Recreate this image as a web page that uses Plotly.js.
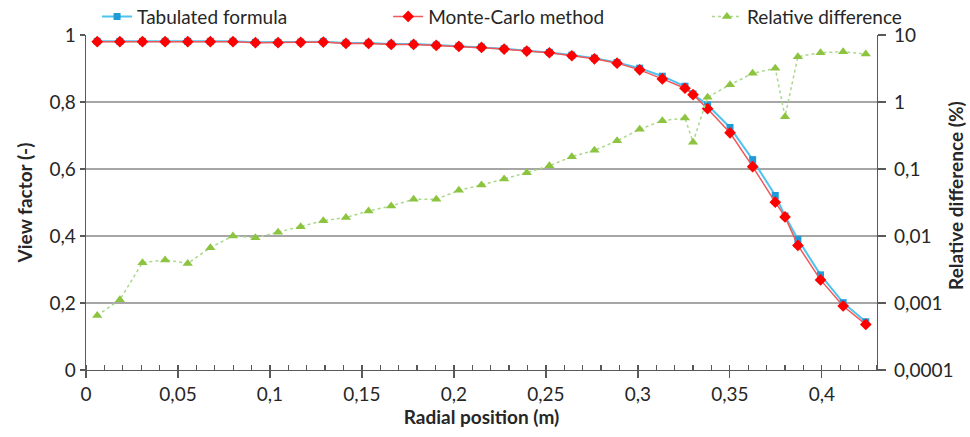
<!DOCTYPE html>
<html>
<head>
<meta charset="utf-8">
<script src="https://cdn.plot.ly/plotly-3.0.1.min.js"></script>
<style>html,body{margin:0;padding:0;background:#fff;}#chart{width:970px;height:437px;}</style>
</head>
<body>
<div id="chart"></div>
<script>
const radialPosition = [0.0061, 0.0184, 0.0307, 0.0430, 0.0553, 0.0676, 0.0799, 0.0921, 0.1044, 0.1167, 0.1290, 0.1413, 0.1536, 0.1659, 0.1781, 0.1904, 0.2027, 0.2150, 0.2273, 0.2396, 0.2519, 0.2641, 0.2764, 0.2887, 0.3010, 0.3133, 0.3256, 0.3300, 0.3379, 0.3501, 0.3624, 0.3747, 0.3800, 0.3870, 0.3993, 0.4116, 0.4239];
const tabulatedFormula = [0.981, 0.981, 0.981, 0.981, 0.981, 0.981, 0.981, 0.978, 0.978, 0.979, 0.980, 0.976, 0.976, 0.973, 0.973, 0.970, 0.967, 0.964, 0.959, 0.953, 0.948, 0.940, 0.931, 0.918, 0.901, 0.877, 0.847, 0.824, 0.791, 0.724, 0.628, 0.521, 0.460, 0.390, 0.284, 0.201, 0.144];
const monteCarlo = [0.980, 0.980, 0.980, 0.980, 0.980, 0.980, 0.980, 0.977, 0.977, 0.978, 0.979, 0.975, 0.975, 0.972, 0.972, 0.969, 0.966, 0.963, 0.958, 0.952, 0.947, 0.938, 0.929, 0.916, 0.896, 0.869, 0.841, 0.822, 0.780, 0.708, 0.607, 0.501, 0.457, 0.372, 0.269, 0.191, 0.136];
const relativeDifference = [0.00065, 0.00112, 0.0040, 0.0044, 0.0039, 0.0067, 0.0100, 0.0094, 0.0114, 0.0138, 0.0169, 0.0189, 0.0236, 0.0281, 0.0353, 0.0353, 0.0481, 0.0577, 0.0709, 0.0881, 0.112, 0.153, 0.190, 0.263, 0.392, 0.526, 0.577, 0.251, 1.175, 1.81, 2.68, 3.18, 0.604, 4.74, 5.45, 5.64, 5.20];
const leftTicks = [0, 0.2, 0.4, 0.6, 0.8, 1];
const rightTickVals = [0.0001, 0.001, 0.01, 0.1, 1, 10];
const rightTickText = ["0,0001", "0,001", "0,01", "0,1", "1", "10"];
const xTicks = [0, 0.05, 0.1, 0.15, 0.2, 0.25, 0.3, 0.35, 0.4];

const FONT = 'Lato, "Open Sans", sans-serif';
const TXT = '#262626';

const traces = [
  {
    x: radialPosition, y: tabulatedFormula, name: 'Tabulated formula', type: 'scatter', mode: 'lines+markers',
    line: {color: '#4EC3F0', width: 2},
    marker: {symbol: 'square', size: 7, color: '#1F9BD8'},
    legend: 'legend'
  },
  {
    x: radialPosition, y: monteCarlo, name: 'Monte-Carlo method', type: 'scatter', mode: 'lines+markers',
    line: {color: '#F0585A', width: 1.5},
    marker: {symbol: 'diamond', size: 9, color: '#FF0000'},
    legend: 'legend2'
  },
  {
    x: radialPosition, y: relativeDifference, name: 'Relative difference', type: 'scatter', mode: 'lines+markers',
    yaxis: 'y2',
    line: {color: '#A9D88A', width: 1.5, dash: 'dot'},
    marker: {symbol: 'triangle-up', size: 9, color: '#8CC43F'},
    legend: 'legend3'
  }
];

const legendCommon = {orientation: 'h', yanchor: 'middle', y: 1.055, bgcolor: 'rgba(0,0,0,0)',
  font: {family: FONT, size: 19, color: TXT}};

const layout = {
  width: 970, height: 437,
  margin: {l: 86, r: 93, t: 35, b: 67, autoexpand: false},
  paper_bgcolor: '#fff', plot_bgcolor: '#fff',
  separators: ', ',
  font: {family: FONT, size: 19, color: TXT},
  showlegend: true,
  legend: Object.assign({}, legendCommon, {x: 0.014, xanchor: 'left'}),
  legend2: Object.assign({}, legendCommon, {x: 0.382, xanchor: 'left'}),
  legend3: Object.assign({}, legendCommon, {x: 0.785, xanchor: 'left'}),
  xaxis: {
    range: [0, 0.43], tickvals: xTicks, ticks: 'outside', ticklen: 7, tickcolor: '#595959', tickwidth: 1.3,
    showline: true, linecolor: '#595959', linewidth: 1.3, showgrid: false, zeroline: false,
    minor: {dtick: 0.01, ticks: 'inside', ticklen: 5, tickcolor: '#595959', tickwidth: 1.3, showgrid: false},
    tickfont: {family: FONT, size: 19, color: TXT},
    title: {text: '<b>Radial position (m)</b>', font: {family: FONT, size: 19, color: TXT}, standoff: 5}
  },
  yaxis: {
    range: [0, 1], tickvals: leftTicks, ticks: 'outside', ticklen: 5, tickcolor: '#595959', tickwidth: 1.3,
    showline: true, linecolor: '#595959', linewidth: 1.3,
    showgrid: true, gridcolor: '#A6A6A6', gridwidth: 1.5, zeroline: false,
    tickfont: {family: FONT, size: 19, color: TXT},
    title: {text: '<b>View factor (-)</b>', font: {family: FONT, size: 19, color: TXT}, standoff: 12}
  },
  yaxis2: {
    type: 'log', range: [-4, 1], overlaying: 'y', side: 'right',
    tickvals: rightTickVals, ticktext: rightTickText,
    ticks: 'outside', ticklen: 8, tickcolor: '#595959', tickwidth: 1.3, ticklabelstandoff: 4,
    showline: true, linecolor: '#595959', linewidth: 1.3, showgrid: false, zeroline: false,
    tickfont: {family: FONT, size: 19, color: TXT}
  },
  annotations: [
    {text: '<b>Relative difference (%)</b>', xref: 'paper', yref: 'paper', x: 1.1, y: 0.52,
     xanchor: 'center', yanchor: 'middle', textangle: -90, showarrow: false,
     font: {family: FONT, size: 19, color: TXT}}
  ]
};

Plotly.newPlot('chart', traces, layout, {displayModeBar: false, staticPlot: true});
</script>
</body>
</html>
